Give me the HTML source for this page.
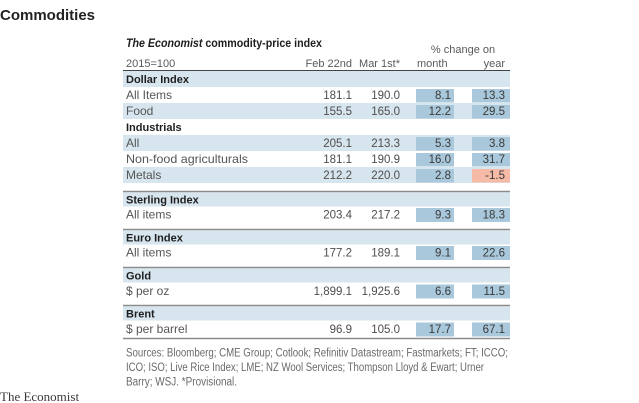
<!DOCTYPE html>
<html>
<head>
<meta charset="utf-8">
<style>
  html,body{margin:0;padding:0;background:#fff;}
  svg{display:block;}
  text{font-family:"Liberation Sans",Arial,sans-serif;}
  .lab{font-size:12px;fill:#555;}
  .hd{font-size:11px;font-weight:bold;fill:#1e1e1e;}
  .num{font-size:11.5px;fill:#4d4d4d;text-anchor:end;}
  .bx{font-size:11.5px;fill:#3a3a3a;text-anchor:end;}
  .hdr{font-size:11px;fill:#5a5a5a;}
  .src{font-size:11.5px;fill:#6a6a6a;}
</style>
</head>
<body>
<svg width="639" height="403" viewBox="0 0 639 403" xmlns="http://www.w3.org/2000/svg">
  <rect width="639" height="403" fill="#fff"/>
  <!-- Title -->
  <text x="0" y="20" style="font-size:15px;font-weight:bold;fill:#222;">Commodities</text>

  <!-- Table title -->
  <text x="126" y="47" style="font-size:11.5px;font-weight:bold;fill:#1e1e1e;" textLength="196" lengthAdjust="spacingAndGlyphs"><tspan font-style="italic">The Economist</tspan> commodity-price index</text>
  <text x="463" y="53" class="hdr" text-anchor="middle">% change on</text>
  <text x="126" y="67" class="hdr">2015=100</text>
  <text x="352" y="67" class="hdr" text-anchor="end">Feb 22nd</text>
  <text x="400" y="67" class="hdr" text-anchor="end">Mar 1st*</text>
  <text x="417" y="67" class="hdr">month</text>
  <text x="505" y="67" class="hdr" text-anchor="end">year</text>
  <line x1="123" y1="70.5" x2="510" y2="70.5" stroke="#444" stroke-width="1"/>

  <!-- Shaded bands, top group -->
  <rect x="123" y="71" width="387" height="16" fill="#d7e5ee"/>
  <rect x="123" y="103" width="387" height="16" fill="#d7e5ee"/>
  <rect x="123" y="135" width="387" height="16" fill="#d7e5ee"/>
  <rect x="123" y="167" width="387" height="16" fill="#d7e5ee"/>

  <!-- boxes top group -->
  <g fill="#a9c8db">
    <rect x="416" y="89" width="38" height="13.5"/><rect x="472" y="89" width="38" height="13.5"/>
    <rect x="416" y="105" width="38" height="13.5"/><rect x="472" y="105" width="38" height="13.5"/>
    <rect x="416" y="137" width="38" height="13.5"/><rect x="472" y="137" width="38" height="13.5"/>
    <rect x="416" y="153" width="38" height="13.5"/><rect x="472" y="153" width="38" height="13.5"/>
    <rect x="416" y="169" width="38" height="13.5"/>
  </g>
  <rect x="472" y="169" width="38" height="13.5" fill="#f6bba6"/>

  <!-- top group text -->
  <text x="126" y="83" class="hd">Dollar Index</text>
  <text x="126" y="99" class="lab">All Items</text>
  <text x="352" y="99" class="num">181.1</text><text x="400" y="99" class="num">190.0</text>
  <text x="451" y="99" class="bx">8.1</text><text x="505" y="99" class="bx">13.3</text>

  <text x="126" y="115" class="lab">Food</text>
  <text x="352" y="115" class="num">155.5</text><text x="400" y="115" class="num">165.0</text>
  <text x="451" y="115" class="bx">12.2</text><text x="505" y="115" class="bx">29.5</text>

  <text x="126" y="131" class="hd">Industrials</text>

  <text x="126" y="147" class="lab">All</text>
  <text x="352" y="147" class="num">205.1</text><text x="400" y="147" class="num">213.3</text>
  <text x="451" y="147" class="bx">5.3</text><text x="505" y="147" class="bx">3.8</text>

  <text x="126" y="163" class="lab" textLength="122" lengthAdjust="spacingAndGlyphs">Non-food agriculturals</text>
  <text x="352" y="163" class="num">181.1</text><text x="400" y="163" class="num">190.9</text>
  <text x="451" y="163" class="bx">16.0</text><text x="505" y="163" class="bx">31.7</text>

  <text x="126" y="179" class="lab">Metals</text>
  <text x="352" y="179" class="num">212.2</text><text x="400" y="179" class="num">220.0</text>
  <text x="451" y="179" class="bx">2.8</text><text x="505" y="179" class="bx">-1.5</text>

  <!-- Sterling -->
  <line x1="123" y1="191.5" x2="510" y2="191.5" stroke="#8c8c8c" stroke-width="1.6"/>
  <rect x="123" y="192.5" width="387" height="14" fill="#d7e5ee"/>
  <text x="126" y="203.5" class="hd">Sterling Index</text>
  <rect x="416" y="208" width="38" height="14" fill="#a9c8db"/><rect x="472" y="208" width="38" height="14" fill="#a9c8db"/>
  <text x="126" y="218.5" class="lab">All items</text>
  <text x="352" y="218.5" class="num">203.4</text><text x="400" y="218.5" class="num">217.2</text>
  <text x="451" y="218.5" class="bx">9.3</text><text x="505" y="218.5" class="bx">18.3</text>

  <!-- Euro -->
  <line x1="123" y1="229.5" x2="510" y2="229.5" stroke="#8c8c8c" stroke-width="1.6"/>
  <rect x="123" y="230.5" width="387" height="14" fill="#d7e5ee"/>
  <text x="126" y="241.5" class="hd">Euro Index</text>
  <rect x="416" y="246" width="38" height="14" fill="#a9c8db"/><rect x="472" y="246" width="38" height="14" fill="#a9c8db"/>
  <text x="126" y="256.5" class="lab">All items</text>
  <text x="352" y="256.5" class="num">177.2</text><text x="400" y="256.5" class="num">189.1</text>
  <text x="451" y="256.5" class="bx">9.1</text><text x="505" y="256.5" class="bx">22.6</text>

  <!-- Gold -->
  <line x1="123" y1="267.5" x2="510" y2="267.5" stroke="#8c8c8c" stroke-width="1.6"/>
  <rect x="123" y="268.5" width="387" height="14" fill="#d7e5ee"/>
  <text x="126" y="279.5" class="hd">Gold</text>
  <rect x="416" y="284.5" width="38" height="14" fill="#a9c8db"/><rect x="472" y="284.5" width="38" height="14" fill="#a9c8db"/>
  <text x="126" y="295" class="lab">$ per oz</text>
  <text x="352" y="295" class="num">1,899.1</text><text x="400" y="295" class="num">1,925.6</text>
  <text x="451" y="295" class="bx">6.6</text><text x="505" y="295" class="bx">11.5</text>

  <!-- Brent -->
  <line x1="123" y1="305.5" x2="510" y2="305.5" stroke="#8c8c8c" stroke-width="1.6"/>
  <rect x="123" y="306.5" width="387" height="14" fill="#d7e5ee"/>
  <text x="126" y="317.5" class="hd">Brent</text>
  <rect x="416" y="322.5" width="38" height="14" fill="#a9c8db"/><rect x="472" y="322.5" width="38" height="14" fill="#a9c8db"/>
  <text x="126" y="333" class="lab">$ per barrel</text>
  <text x="352" y="333" class="num">96.9</text><text x="400" y="333" class="num">105.0</text>
  <text x="451" y="333" class="bx">17.7</text><text x="505" y="333" class="bx">67.1</text>
  <line x1="123" y1="338.5" x2="510" y2="338.5" stroke="#8c8c8c" stroke-width="1.4"/>

  <!-- Sources -->
  <text x="126" y="356.5" class="src" textLength="382" lengthAdjust="spacingAndGlyphs">Sources: Bloomberg; CME Group; Cotlook; Refinitiv Datastream; Fastmarkets; FT; ICCO;</text>
  <text x="126" y="371" class="src" textLength="358" lengthAdjust="spacingAndGlyphs">ICO; ISO; Live Rice Index; LME; NZ Wool Services; Thompson Lloyd &amp; Ewart; Urner</text>
  <text x="126" y="385.5" class="src" textLength="111" lengthAdjust="spacingAndGlyphs">Barry; WSJ. *Provisional.</text>

  <!-- Footer -->
  <text x="0" y="401" style="font-family:'Liberation Serif',serif;font-size:13px;fill:#3a3a3a;">The Economist</text>
</svg>
</body>
</html>
